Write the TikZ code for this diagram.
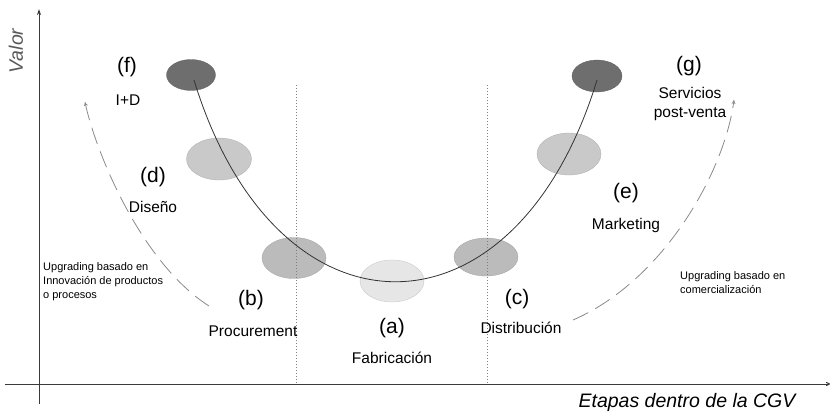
\documentclass[tikz,border=0pt]{standalone}
\usepackage{fontspec}
\setmainfont{Liberation Sans}
\usetikzlibrary{shapes.geometric,arrows.meta}
\definecolor{axisc}{HTML}{3A3A3A}
\definecolor{darkell}{HTML}{6E6E6E}
\definecolor{midell}{HTML}{BBBBBB}
\definecolor{lightell}{HTML}{C9C9C9}
\definecolor{palell}{HTML}{E6E6E6}
\definecolor{dashc}{HTML}{8A8A8A}
\definecolor{dotc}{HTML}{808080}
\tikzset{
  ell/.style={ellipse,inner sep=0pt,draw=#1!85!black,line width=0.3pt,fill=#1},
  letter/.style={font=\fontsize{21}{24}\selectfont,inner sep=0pt,text=black},
  word/.style={font=\fontsize{15.5}{19}\selectfont,inner sep=0pt,text=black},
  small/.style={font=\fontsize{11}{14}\selectfont,inner sep=0pt,align=left,text=black},
  axisline/.style={draw=axisc,line width=1pt},
  upgr/.style={draw=dashc,line width=0.8pt,dash pattern=on 17pt off 8pt,-{To[length=4pt,width=4pt]}},
  divider/.style={draw=dotc,line width=0.9pt,dash pattern=on 1.2pt off 1.8pt},
  axislabel/.style={font=\itshape\fontsize{19.5}{22}\selectfont,inner sep=0pt}
}
\begin{document}
\begin{tikzpicture}[x=1pt,y=-1pt]
\useasboundingbox (0,0) rectangle (831,413);
% axes
\coordinate (yb) at (39,404);
\coordinate (yt) at (39,9);
\coordinate (xl) at (5,384);
\coordinate (xr) at (830,384);
\draw[axisline,-{Stealth[length=6pt,width=4pt]}] (yb) -- (yt);
\draw[axisline,-{To[length=4pt,width=4pt]}] (xl) -- (xr);
\node[axislabel,rotate=90,text=black!65] (valor) at (16,51) {Valor};
\node[axislabel,text=black] (etapas) at (687,402) {Etapas dentro de la CGV};
% ellipses
\node[ell=darkell,minimum width=49pt,minimum height=31pt] (f) at (191,75) {};
\node[ell=darkell,minimum width=50pt,minimum height=32pt] (g) at (597,76) {};
\node[ell=lightell,minimum width=65pt,minimum height=42pt] (d) at (219,159) {};
\node[ell=lightell,minimum width=64pt,minimum height=42pt] (e) at (569,154) {};
\node[ell=midell,minimum width=64pt,minimum height=41pt] (b) at (294,258) {};
\node[ell=midell,minimum width=64pt,minimum height=38pt] (c) at (486,257) {};
\node[ell=palell,minimum width=64pt,minimum height=42pt] (a) at (392,281) {};
% dividers
\coordinate (d1t) at (296,85);
\coordinate (d1b) at (296,384);
\coordinate (d2t) at (487,85);
\coordinate (d2b) at (487,384);
\draw[divider] (d1t) -- (d1b);
\draw[divider] (d2t) -- (d2b);
% U curve
\draw[draw=black!80,line width=0.8pt] ([shift={(3,5)}]f.center) .. controls (276,349) and (515,349) .. ([shift={(0,4)}]g.center);
% upgrading arrows
\coordinate (ls) at (209,306);
\coordinate (le) at (85,102);
\coordinate (rs) at (573,320);
\coordinate (re) at (734,100);
\draw[upgr] (ls) .. controls (140,262) and (95,150) .. (le);
\draw[upgr] (rs) .. controls (665,280) and (725,170) .. (re);
% labels
\node[letter] (lf) at (127,67) {(f)};
\node[word] (tf) at (128,100) {I+D};
\node[letter] (ld) at (153,177) {(d)};
\node[word] (td) at (153,207) {Diseño};
\node[letter] (lb) at (251,300) {(b)};
\node[word] (tb) at (253,331) {Procurement};
\node[letter] (la) at (392,328) {(a)};
\node[word] (ta) at (392,358) {Fabricación};
\node[letter] (lc) at (517,299) {(c)};
\node[word] (tc) at (521,328) {Distribución};
\node[letter] (le2) at (626,193) {(e)};
\node[word] (te) at (626,225) {Marketing};
\node[letter] (lg) at (689,66) {(g)};
\node[word,align=center] (tg) at (690,104) {Servicios\\post-venta};
\node[small,anchor=west] (ul) at (43,282) {Upgrading basado en\\Innovación de productos\\o procesos};
\node[small,anchor=west] (ur) at (680,282.5) {Upgrading basado en\\comercialización};
\end{tikzpicture}
\end{document}
